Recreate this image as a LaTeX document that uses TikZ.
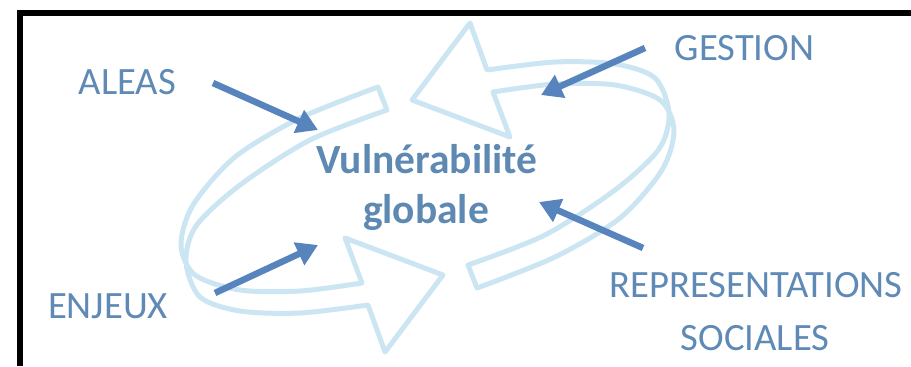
\documentclass[tikz,border=0pt]{standalone}
\usepackage{fontspec}
\setmainfont{Carlito}
\usetikzlibrary{arrows.meta}

\definecolor{ringblue}{HTML}{CCE5F3}
\definecolor{labelblue}{HTML}{5F8AB6}
\definecolor{centreblue}{HTML}{5E89B2}
\definecolor{arrowblue}{HTML}{5784BD}

\begin{document}
\begin{tikzpicture}[x=0.1mm, y=-0.1mm,
    lab/.style={text=labelblue, font=\fontsize{11}{15}\selectfont, anchor=base, inner sep=0pt},
    centre/.style={text=centreblue, font=\bfseries\fontsize{11.8}{14}\selectfont, anchor=base, inner sep=0pt},
    ring/.style={draw=ringblue, line width=0.5mm, line join=round},
    fleche/.style={draw=arrowblue, line width=0.65mm, -{Triangle[length=2.1mm,width=2.4mm]}}]
  \useasboundingbox (0,0) rectangle (911,366);
  % cadre
  \draw[line width=0.55mm] (19.75,366) -- (19.75,12.75) -- (911,12.75);
  % fleches circulaires
  \foreach \r in {0,180}
    \draw[ring, rotate around={\r:(427.5,187.5)}]
      plot[smooth] coordinates {(378,87) (300,118) (235,157) (193,205) (181,245) (195,275) (240,290) (300,291) (362,283)}
      -- (345,238) -- (443,275) -- (385,352)
      -- plot[smooth] coordinates {(368,305) (300,313) (240,311) (200,297) (186,262) (196,226) (240,185) (310,140) (387,110)}
      -- cycle;
  % textes
  \node[centre] (vuln) at (427,173) {Vulnérabilité};
  \node[centre] (glob) at (426,223) {globale};
  \node[lab] (aleas) at (127.5,94) {ALEAS};
  \node[lab] (enjeux) at (108,318) {ENJEUX};
  \node[lab] (gestion) at (744.5,60) {GESTION};
  \node[lab] (repr) at (756,297) {REPRESENTATIONS};
  \node[lab] (soc) at (755,350) {SOCIALES};
  % fleches
  \coordinate (aleasT) at (213,83);   \coordinate (aleasH) at (318,130);
  \coordinate (enjeuxT) at (215,293); \coordinate (enjeuxH) at (318,245);
  \coordinate (gestT) at (645,48);    \coordinate (gestH) at (541,95);
  \coordinate (reprT) at (643,248);   \coordinate (reprH) at (539,202);
  \draw[fleche] (aleasT) -- (aleasH);
  \draw[fleche] (enjeuxT) -- (enjeuxH);
  \draw[fleche] (gestT) -- (gestH);
  \draw[fleche] (reprT) -- (reprH);
\end{tikzpicture}
\end{document}
